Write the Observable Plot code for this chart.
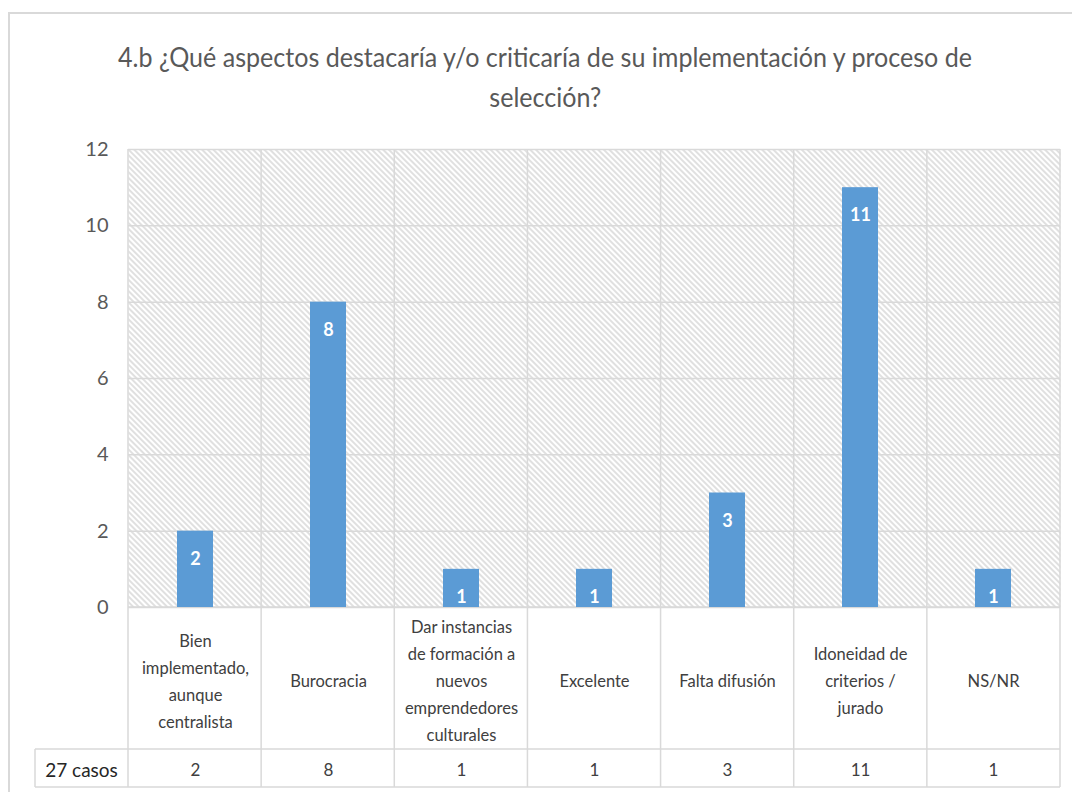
<!DOCTYPE html>
<html>
<head>
<meta charset="utf-8">
<script src="https://cdn.jsdelivr.net/npm/d3@7"></script>
<script src="https://cdn.jsdelivr.net/npm/@observablehq/plot@0.6"></script>
<style>
  html, body { margin: 0; padding: 0; background: #fff; width: 1072px; height: 792px; overflow: hidden; }
  #box { position: absolute; left: 8px; top: 12px; width: 1100px; height: 900px; border-left: 2px solid #d9d9d9; border-top: 2px solid #d9d9d9; }
  #title { position: absolute; left: 0; top: 37px; width: 1090px; text-align: center; font-family: Lato, "Open Sans", sans-serif; font-size: 27px; line-height: 40px; color: #595959; }
  #title span { display: inline-block; white-space: nowrap; transform-origin: 50% 50%; }
  #chart { position: absolute; left: 0; top: 130px; }
</style>
</head>
<body>
<div id="box"></div>
<div id="title"><span id="t1">4.b ¿Qué aspectos destacaría y/o criticaría de su implementación y proceso de</span><br><span id="t2">selección?</span></div>
<div id="chart"></div>
<script>
const categories = [
  "Bien\nimplementado,\naunque\ncentralista",
  "Burocracia",
  "Dar instancias\nde formación a\nnuevos\nemprendedores\nculturales",
  "Excelente",
  "Falta difusión",
  "Idoneidad de\ncriterios /\njurado",
  "NS/NR"
];
const counts = [2, 8, 1, 1, 3, 11, 1];
const yTicks = [0, 2, 4, 6, 8, 10, 12];
const totalLabel = "27 casos";

const data = categories.map((c, i) => ({category: c, count: counts[i]}));
const FONT = 'Lato, "Open Sans", sans-serif';
const GRID = "#d9d9d9";

function tableGrid(index, scales, values, dims) {
  const {y} = scales;
  const left = dims.marginLeft, right = dims.width - dims.marginRight;
  const n = categories.length, step = (right - left) / n;
  const y0 = y(0), yTop = y(12);
  const rowLabelBottom = y0 + 142, rowCountBottom = y0 + 180;
  const tableLeft = left - 93;
  const g = d3.create("svg:g").attr("stroke", GRID).attr("stroke-width", 1.5).attr("fill", "none");
  for (let i = 0; i <= n; i++) {
    const xx = left + i * step;
    g.append("line").attr("x1", xx).attr("x2", xx).attr("y1", yTop).attr("y2", rowCountBottom);
  }
  g.append("line").attr("x1", left).attr("x2", right).attr("y1", y0).attr("y2", y0);
  g.append("line").attr("x1", tableLeft).attr("x2", right).attr("y1", rowLabelBottom).attr("y2", rowLabelBottom);
  g.append("line").attr("x1", tableLeft).attr("x2", right).attr("y1", rowCountBottom).attr("y2", rowCountBottom);
  g.append("line").attr("x1", tableLeft).attr("x2", tableLeft).attr("y1", rowLabelBottom).attr("y2", rowCountBottom);
  return g.node();
}

const plot = Plot.plot({
  width: 1072,
  height: 662,
  marginLeft: 128,
  marginRight: 12,
  marginTop: 19,
  marginBottom: 185,
  style: {fontFamily: FONT, background: "transparent", overflow: "visible"},
  x: {domain: categories, paddingInner: 0.73, paddingOuter: 0.365, axis: null},
  y: {domain: [0, 12], axis: null},
  marks: [
    Plot.frame({fill: "url(#hatch)", stroke: null}),
    Plot.gridY(yTicks, {stroke: GRID, strokeWidth: 1.5, strokeOpacity: 1}),
    tableGrid,
    Plot.barY(data, {x: "category", y: "count", fill: "#5b9bd5"}),
    Plot.text(data, {x: "category", y: "count", text: d => String(d.count), dy: 28, fill: "#ffffff", fontSize: 18, fontWeight: "bold"}),
    Plot.text(data, {x: "category", y: 0, text: "category", dy: 71, lineHeight: 27 / 16.5, fontSize: 16.5, fill: "#404040"}),
    Plot.text(data, {x: "category", y: 0, text: d => String(d.count), dy: 163, fontSize: 17, fill: "#404040"}),
    Plot.text([totalLabel], {frameAnchor: "bottom-left", text: d => d, dx: -47, dy: 163, fontSize: 19, fill: "#262626", textAnchor: "middle", lineAnchor: "middle"}),
    Plot.axisY({ticks: yTicks, tickSize: 0, tickPadding: 20, fontSize: 20, fill: "#595959", label: null})
  ]
});

const defs = d3.select(plot).insert("defs", ":first-child");
const pat = defs.append("pattern")
  .attr("id", "hatch")
  .attr("patternUnits", "userSpaceOnUse")
  .attr("width", 4).attr("height", 4)
  .attr("patternTransform", "rotate(-45)");
pat.append("rect").attr("width", 4).attr("height", 4).attr("fill", "#ffffff");
pat.append("line").attr("x1", 1).attr("x2", 1).attr("y1", 0).attr("y2", 4)
  .attr("stroke", "#d0d0d0").attr("stroke-width", 1.3);

document.getElementById("chart").appendChild(plot);

// condense the title to the reference's width
const t1 = document.getElementById("t1"), t2 = document.getElementById("t2");
const k = 854 / t1.getBoundingClientRect().width;
t1.style.transform = `scaleX(${k})`;
t2.style.transform = `scaleX(${k})`;
</script>
</body>
</html>
